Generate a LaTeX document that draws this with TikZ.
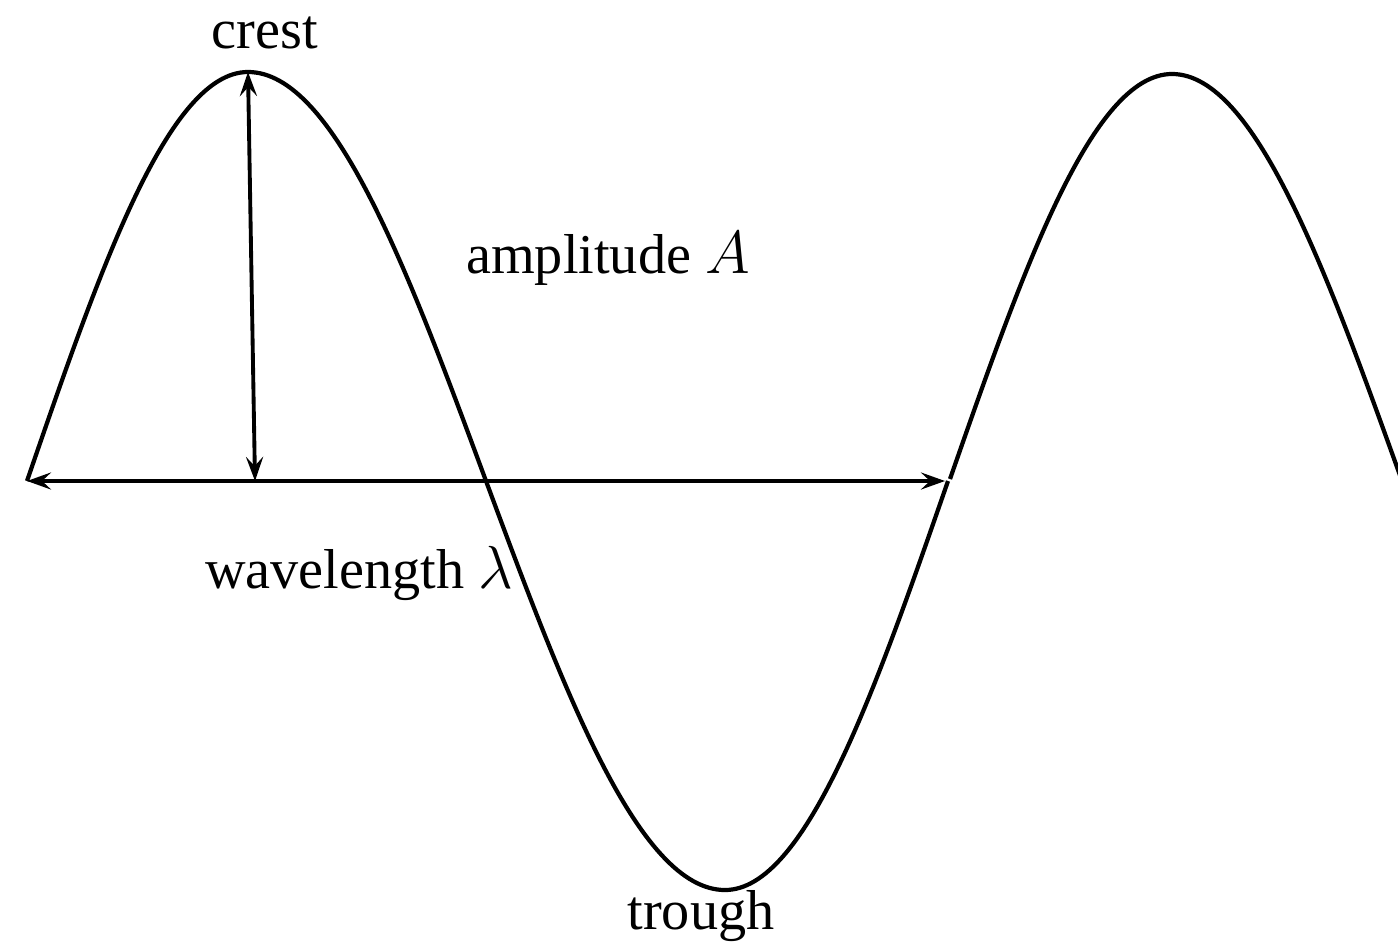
\documentclass[tikz,border=0pt]{standalone}
\usepackage{amsmath}
\usepackage{fontspec}
\setmainfont{Liberation Serif}
\usetikzlibrary{arrows.meta,positioning}

\begin{document}
\begin{tikzpicture}[
  wave/.style={line width=1.2pt,black},
  arrow/.style={{Stealth[length=2.4mm,width=1.7mm,inset=0.9mm]}-{Stealth[length=2.4mm,width=1.7mm,inset=0.9mm]},line width=1.1pt,black},
  lbl/.style={font=\fontsize{16}{19}\selectfont,inner sep=0pt}
]
\useasboundingbox (0,0) rectangle (13.98,9.46);
\clip (0,0) rectangle (13.98,9.46);
\coordinate (start) at (0.27,4.65);
\coordinate (top) at (2.48,8.74);
\coordinate (foot) at (2.55,4.65);
\coordinate (end) at (9.45,4.65);
% the wave
\draw[wave] (start) sin (top) cos (4.86,4.65) sin (7.25,0.56) cos (9.48,4.65);
\draw[wave] (9.50,4.67) sin (11.72,8.72) cos (14.02,4.65);
% arrows
\draw[arrow] (foot) -- (top);
\draw[arrow] (start) -- (end);
% labels
\node[lbl] (crest) at (2.65,9.13) {crest};
\node[lbl] (amp) at (6.08,6.87) {amplitude $A$};
\node[lbl] (wlen) at (3.59,3.73) {wavelength $\lambda$};
\node[lbl] (trough) at (7.01,0.30) {trough};
\end{tikzpicture}
\end{document}
